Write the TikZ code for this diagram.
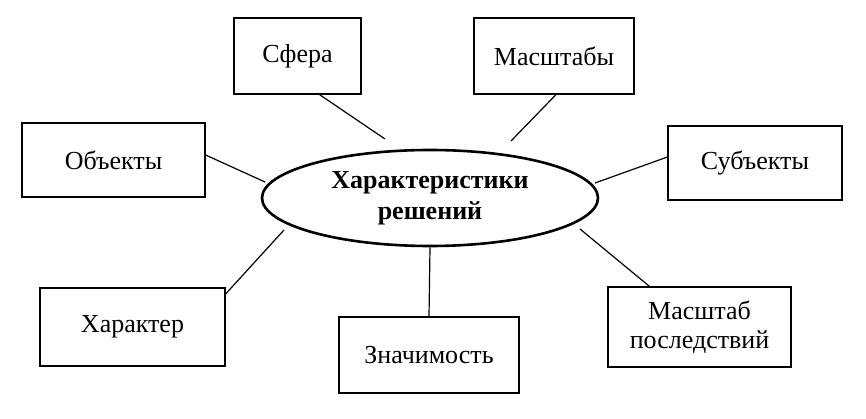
\documentclass[tikz,border=0pt]{standalone}
\usepackage{fontspec}
\setmainfont{Liberation Serif}
\usetikzlibrary{shapes.geometric}
\begin{document}
\begin{tikzpicture}[x=1pt,y=-1pt,
  bx/.style={draw,line width=1.2pt,inner sep=0pt,font=\fontsize{26}{29}\selectfont,align=center},
  ln/.style={line width=1.2pt}]
\useasboundingbox (0,0) rectangle (866,419);
\node[bx,minimum width=127pt,minimum height=76pt] (sf) at (297.5,56) {Сфера};
\node[bx,minimum width=160pt,minimum height=76pt] (ms) at (554,56) {Масштабы};
\node[bx,minimum width=183pt,minimum height=74pt] (ob) at (113.5,160) {Объекты};
\node[bx,minimum width=174pt,minimum height=74pt] (su) at (755,163) {Субъекты};
\node[bx,minimum width=185pt,minimum height=78pt] (ha) at (132.5,327) {Характер};
\node[bx,minimum width=180pt,minimum height=76pt] (zn) at (429,355) {Значимость};
\node[bx,minimum width=183pt,minimum height=80pt] (mp) at (699.5,327) {Масштаб\\последствий};
\node[ellipse,draw,line width=2.6pt,minimum width=336pt,minimum height=96pt,inner sep=0pt,align=center,
  font=\fontsize{26}{31}\selectfont\bfseries] (e) at (430,198) {Характеристики\\решений};
\coordinate (p1) at (385,139);
\coordinate (p2) at (511,141);
\coordinate (p3) at (265,182);
\coordinate (p4) at (595,183);
\coordinate (p5) at (284,230);
\coordinate (p6) at (580,229);
\draw[ln] ([xshift=22pt]sf.south) -- (p1);
\draw[ln] ([xshift=2pt]ms.south) -- (p2);
\draw[ln] ([yshift=5pt]ob.east) -- (p3);
\draw[ln] ([yshift=6pt]su.west) -- (p4);
\draw[ln] ([yshift=33pt]ha.east) -- (p5);
\draw[ln] (zn.north) -- (e.south);
\draw[ln] ([xshift=-50pt]mp.north) -- (p6);
\end{tikzpicture}
\end{document}
